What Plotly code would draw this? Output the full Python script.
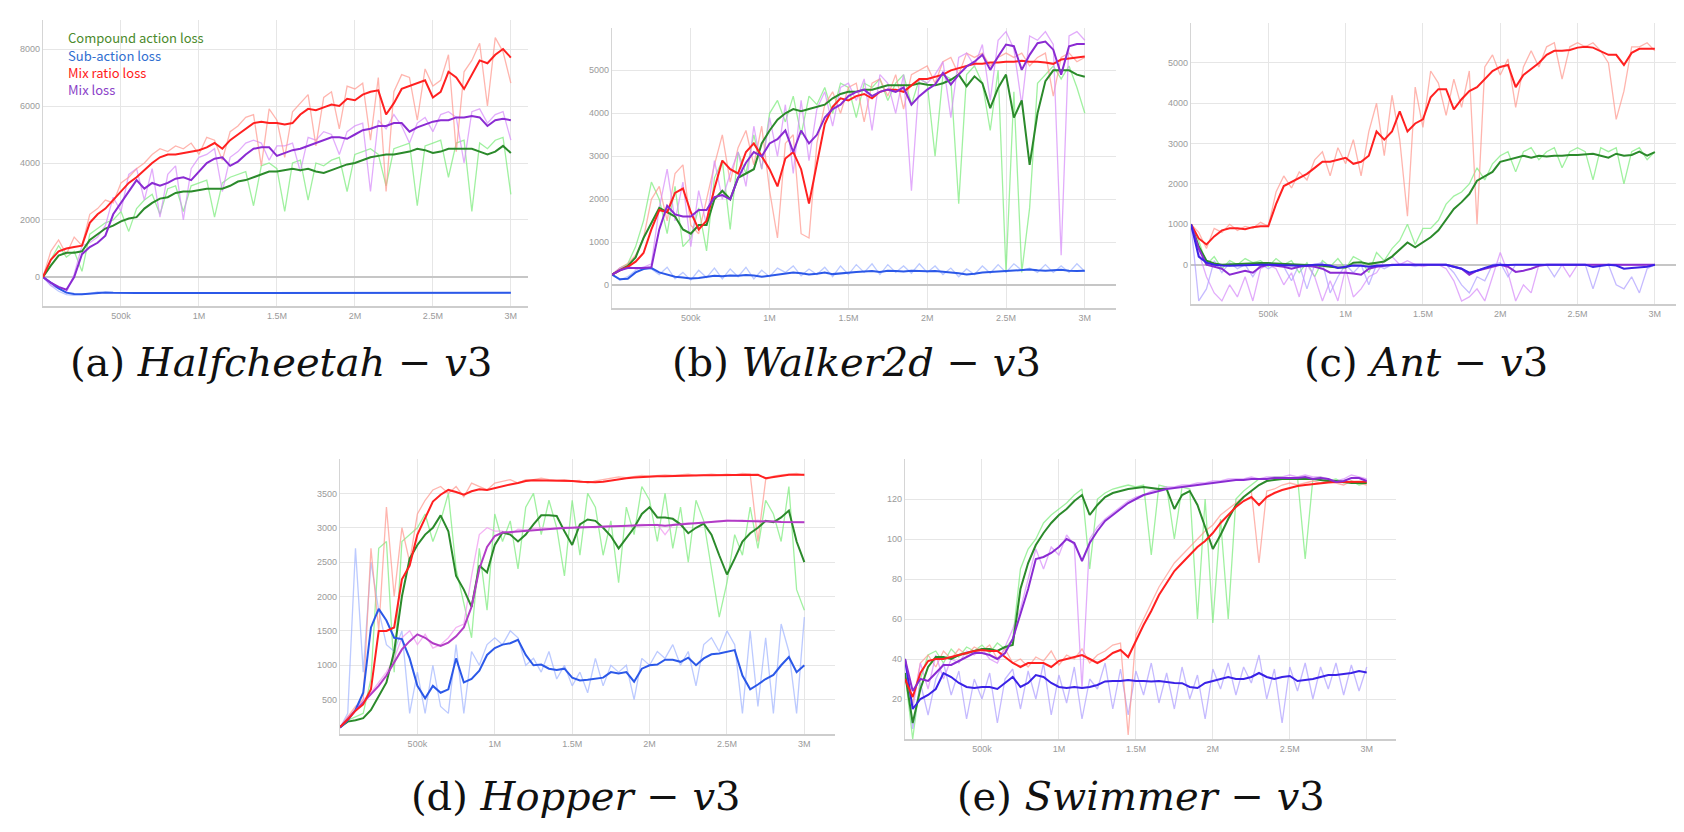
import plotly.graph_objects as go

W, H = 1684, 832

# ---------------- data ----------------
STEPS_K = [0,50,100,150,200,250,300,350,400,450,500,550,600,650,700,750,800,850,900,950,
           1000,1050,1100,1150,1200,1250,1300,1350,1400,1450,1500,1550,1600,1650,1700,1750,1800,1850,1900,1950,
           2000,2050,2100,2150,2200,2250,2300,2350,2400,2450,2500,2550,2600,2650,2700,2750,2800,2850,2900,2950,3000]

X_TICK_VALS = [500000, 1000000, 1500000, 2000000, 2500000, 3000000]
X_TICK_TEXT = ["500k", "1M", "1.5M", "2M", "2.5M", "3M"]

SERIES_NAMES = ["Compound action loss", "Sub-action loss", "Mix ratio loss", "Mix loss"]
PANEL_LABELS = ["(a)", "(b)", "(c)", "(d)", "(e)"]
PANEL_ENVS = ["Halfcheetah", "Walker2d", "Ant", "Hopper", "Swimmer"]

# (a) Halfcheetah-v3
A_GREEN = [0,400,750,850,850,900, 1300,1500,1700,1800,1950, 2050,2100,2400,2600,2750, 2800,2950,3000,3000,3050,
           3100,3100,3100,3200,3350, 3400,3500,3600,3700,3700, 3750,3800,3750,3800,3700, 3650,3750,3850,3950,4000,
           4100,4200,4250,4300,4300, 4350,4400,4500,4450,4350, 4400,4500,4500,4500,4500, 4400,4300,4400,4600,4350]
A_GREEN_RAW = [0,600,1100,700,900,200, 1500,1700,1900,2000,2300, 1600,2400,2700,2900,2200, 3100,3200,2300,3200,3300,
               3400,2100,3300,3500,3600, 3700,2500,3900,4000,3800, 2300,4000,4100,2700,4000, 3900,4100,4200,3000,4300,
               4400,4500,4300,3200,4500, 4600,4700,2500,4600,4700, 4800,3500,4700,4800,2300, 4700,4500,4800,4900,2900]
A_BLUE = [0,-200,-400,-550,-600,-610, -590,-560,-540,-550,-560, -560,-560,-560,-560,-560, -560,-560,-560,-560,-560,
          -560,-560,-560,-560,-560, -560,-560,-560,-560,-560, -560,-560,-560,-560,-560, -560,-560,-560,-555,-555,
          -555,-555,-555,-555,-555, -555,-555,-555,-555,-555, -555,-555,-555,-555,-555, -555,-555,-555,-555,-555]
A_BLUE_RAW = [0,-300,-500,-620,-640,-620, -580,-520,-560,-560,-570, -560,-550,-565,-560,-555, -560,-560,-565,-560,-560,
              -560,-555,-560,-560,-565, -560,-560,-560,-555,-560, -560,-560,-565,-560,-560, -560,-555,-560,-560,-555,
              -555,-560,-555,-555,-550, -555,-555,-560,-555,-555, -555,-550,-555,-555,-560, -555,-555,-550,-555,-555]
A_RED = [0,600,900,1000,1050,1100, 1900,2200,2400,2700,3000, 3300,3500,3750,4000,4200, 4300,4300,4350,4400,4450,
         4550,4700,4500,4800,5000, 5200,5400,5450,5400,5400, 5350,5400,5700,5900,5850, 5950,6050,6000,6250,6200,
         6400,6500,6550,5700,6100, 6600,6700,6800,6900,6300, 6500,7200,7000,6600,7100, 7600,7500,7800,8000,7700]
A_RED_RAW = [0,900,1300,800,1400,1100, 2200,2400,2700,2600,3300, 3500,3800,4000,4300,4500, 4400,4600,4500,4700,4300,
             4900,4800,4100,5100,5300, 5600,5700,3900,5900,5500, 4200,5800,6100,6400,4600, 6300,6500,5200,6700,6600,
             6800,4800,7000,3000,6500, 7100,7000,5500,7300,6700, 6900,7800,4400,7200,7600, 8200,6000,8400,7900,6800]
A_PURPLE = [0,-200,-350,-450,0,800, 1050,1200,1450,2200,2600, 3000,3400,3100,3300,3200, 3300,3450,3500,3400,3700,
            4000,4150,4200,3900,4050, 4300,4500,4550,4550,4250, 4350,4450,4500,4600,4700, 4800,4900,4900,4850,5000,
            5150,5200,5300,5300,5400, 5400,5100,5250,5350,5450, 5500,5500,5600,5600,5650, 5600,5300,5500,5550,5500]
A_PURPLE_RAW = [0,-300,-400,-550,100,1100, 1200,1400,1800,2800,2300, 3600,3800,2700,3800,2100, 3600,3900,2000,3800,4200,
                4300,4500,3000,4200,4400, 4700,4800,4700,4100,4600, 4600,4700,3700,4900,4800, 5100,5000,4300,5100,5300,
                5400,3000,5500,5200,5700, 5300,4700,5400,5600,5100, 5700,5800,5600,4000,5800, 5900,5400,5700,5800,4800]

# (b) Walker2d-v3
B_GREEN = [250,350,450,650,1100,1450, 1800,1700,1600,1300,1200, 1400,1400,2000,2200,2000, 2500,2600,2700,3300,3600,
           3850,4000,4100,4050,4100, 4150,4200,4350,4450,4500, 4500,4550,4550,4600,4650, 4650,4650,4650,4700,4665,
           4650,4700,4780,4900,4630, 4860,4700,4120,4590,4900, 3900,4300,2800,4000,4750, 5000,5000,5000,4900,4850]
B_GREEN_RAW = [250,400,500,900,1500,2400, 2000,1200,2300,900,1100, 1800,800,2500,2900,1300, 3100,2600,3500,2700,4000,
               4300,3800,4400,3500,4400, 4200,4600,4000,4700,4600, 3900,4700,4600,4800,4300, 4700,4900,4200,4800,4700,
               3000,4900,4800,1900,4900, 5100,4700,3600,5000,300, 4500,300,1800,4700,4900, 5100,4800,5100,4600,4000]
B_BLUE = [250,140,150,300,380,400, 300,250,200,180,160, 170,200,220,210,230, 220,240,230,200,220,
          250,280,300,280,250, 270,300,260,280,300, 310,320,330,310,340, 330,320,340,330,325,
          330,320,300,280,250, 270,300,310,320,330, 340,350,365,350,340, 350,360,340,330,340]
B_BLUE_RAW = [250,120,200,350,420,380, 250,420,150,300,120, 350,180,400,150,380, 200,420,150,350,200,
              400,300,450,220,380, 250,420,200,450,250, 480,300,500,250,480, 300,450,280,500,300,
              450,250,400,200,380, 250,450,280,480,300, 500,350,400,300,480, 300,450,300,500,320]
B_RED = [250,350,430,550,750,1300, 1750,1700,2150,2250,1700, 1300,1500,2250,2900,2700, 2600,3100,3300,3000,2700,
         2300,2950,3100,2700,1900, 2800,3750,4150,4350,4300, 4400,4450,4350,4500,4550, 4550,4500,4650,4800,4800,
         4850,4900,5000,5050,5100, 5150,5150,5180,5180,5200, 5200,5220,5200,5200,5180, 5150,5250,5280,5300,5320]
B_RED_RAW = [250,400,500,700,1100,2000, 2300,1500,2600,2800,1400, 1200,2000,2800,3500,2400, 3200,3600,2800,3700,2200,
             1100,3300,3500,1200,1100, 3300,4200,4500,4000,4600, 4700,3800,4700,4800,4400, 4900,4100,4900,5000,5100,
             4700,5200,5300,4900,5400, 5300,5400,5100,5300,5400, 5300,5400,5100,5300,5400, 4400,5300,5400,5200,5300]
B_PURPLE = [250,350,400,400,400,420, 1300,1850,1650,1600,1600, 1750,1750,2050,2100,2000, 2500,2850,3100,3000,3300,
            3400,3600,3100,3600,3300, 3500,3900,4100,4200,4400, 4500,4550,4400,4500,4550, 4500,4600,4200,4400,4550,
            4670,4940,4670,4900,5090, 5200,5360,5010,5320,5600, 5560,5010,5360,5630,5670, 5480,4900,5560,5610,5610]
B_PURPLE_RAW = [250,400,450,380,420,500, 1800,2700,1500,2400,900, 2200,1400,2900,2000,2600, 3100,2300,3700,2700,3900,
                3000,4200,2600,4300,2900, 4100,4500,3700,4600,4700, 4300,4800,3600,4900,4700, 4000,4900,2200,4800,4700,
                4900,5200,3900,5300,5400, 5100,5600,4300,5700,5900, 5500,4200,5800,5700,5900, 5600,700,5800,5900,5700]

# (c) Ant-v3
C_GREEN = [1000,450,100,30,0,10, 20,30,40,40,40, 30,20,10,0,0, -20,-30,-50,-70,-70,
           50,60,20,50,80, 200,380,550,430,560, 680,850,1100,1380,1550, 1750,2080,2200,2300,2550,
           2600,2650,2700,2650,2700, 2680,2700,2700,2720,2720, 2740,2750,2700,2650,2750, 2700,2720,2800,2700,2790]
C_GREEN_RAW = [1000,600,0,200,-100,100, 0,150,50,100,-50, 150,0,100,-200,50, -300,100,-50,150,-100,
               200,100,-200,300,100, 400,600,1000,500,900, 900,1100,1500,1700,1800, 2000,2400,2100,2500,2700,
               2800,2300,2800,2900,2600, 2800,2900,2400,2800,2900, 2800,2100,2900,2800,2900, 2000,2800,2900,2600,2800]
C_BLUE = [1000,200,50,0,-20,-30, -20,-10,0,0,0, -10,-20,-30,-30,-20, 0,0,-20,-80,-50,
          -20,-30,-50,-30,-20, 0,0,0,0,0, 0,0,0,-50,-100, -200,-150,-80,-20,0,
          -10,0,0,0,0, 0,0,0,0,0, 0,-60,-30,0,-20, -100,-80,-60,-50,0]
C_BLUE_RAW = [1000,-900,-600,100,-200,50, -100,0,-300,20,-100, 0,-50,-400,0,-600, 0,50,-700,-300,0,
              -200,0,-500,0,-100, 0,0,0,-50,0, 0,0,0,-200,-500, -700,-300,-400,0,50,
              -300,0,0,0,0, 0,-300,0,0,0, 0,-600,0,0,-500, -600,-300,-700,-100,0]
C_RED = [1000,650,500,700,850,900, 900,880,930,950,950, 1500,1950,2050,2150,2250, 2400,2550,2550,2600,2650,
         2500,2550,2700,3300,3100, 3300,3800,3300,3500,3600, 4150,4350,4350,3850,4100, 4300,4400,4600,4800,4900,
         4950,4400,4700,4850,5000, 5200,5300,5300,5320,5380, 5400,5380,5300,5200,5200, 4950,5250,5350,5350,5350]
C_RED_RAW = [1000,800,400,900,800,1000, 850,950,900,1050,950, 1800,2200,1900,2300,2100, 2600,2800,2200,2900,2500,
             3100,2200,3300,4000,2700, 4200,3100,1200,4400,3400, 4800,4500,3700,4600,3900, 4800,1000,4900,5200,4700,
             5100,3900,4900,5300,4900, 5400,5500,4600,5400,5500, 5400,5500,5300,5000,3600, 4300,5400,5400,5500,5300]
C_PURPLE = [1000,400,0,-50,-100,-250, -200,-150,-200,-50,0, -20,-50,-100,-50,-30, -50,-100,-200,-200,-200,
            -220,-250,-100,-50,-30, 0,0,0,0,0, 0,0,0,-50,-100, -250,-150,-100,-50,0,
            -50,-180,-150,-100,-30, 0,0,0,0,0, 0,0,0,0,0, 0,0,0,0,0]
C_PURPLE_RAW = [1000,300,-300,-700,-900,-500, -800,-300,-900,-100,0, -100,-500,-200,-800,0, -300,-900,-400,-900,-100,
                -800,-600,-300,-200,100, 200,0,100,0,-50, 0,0,-100,-400,-900, -800,-600,-900,-300,300,
                -200,-900,-500,-700,0, 0,0,0,-300,0, 0,0,0,0,0, 0,0,0,0,0]

# (d) Hopper-v3
D_GREEN = [100,180,200,230,350,550, 750,1200,2000,2550,2750, 2900,3000,3180,2950,2300, 2100,1850,2450,2350,2750,
           2930,2900,2800,2900,3050, 3180,3180,3170,2950,2750, 3050,3120,3100,3000,2880, 2700,2850,3000,3200,3300,
           3150,3150,3130,3050,2920, 3000,3060,2900,2600,2320, 2550,2800,2920,3000,3100, 3080,3150,3250,2800,2500]
D_GREEN_RAW = [100,200,250,300,800,2700, 2800,900,2800,2900,3000, 3200,2800,3100,3500,2400, 1900,1400,2700,1800,3200,
               2800,3100,2400,3300,3500, 2900,3400,3000,2300,3400, 2600,3500,3300,2600,3100, 2200,3300,2900,3600,3400,
               2800,3500,2700,3300,2500, 3400,3100,2400,1700,2200, 2900,2600,3300,2700,3400, 3200,2800,3600,2100,1800]
D_BLUE = [90,200,350,600,1550,1820, 1650,1400,1380,1100,700, 520,700,600,650,1100, 750,800,920,1150,1250,
          1300,1320,1370,1150,1000, 1010,950,930,950,820, 780,790,800,820,900, 880,900,760,950,1000,
          1010,1080,1080,1050,1110, 1000,1100,1160,1170,1200, 1220,850,650,720,800, 860,1000,1120,900,1000]
D_BLUE_RAW = [90,300,2700,900,2500,1800, 1300,1200,1500,300,900, 300,1000,400,300,1300, 300,1200,1000,1300,1400,
              1300,1500,1400,1000,1100, 900,1200,800,1000,700, 900,600,1100,700,1000, 900,1000,500,1100,1000,
              1200,1100,1300,1000,1200, 700,1300,1400,1200,1500, 1300,300,1500,400,1400, 300,1600,1200,300,1700]
D_RED = [100,210,340,430,650,1500, 1500,1550,2250,2450,2900, 3150,3380,3480,3550,3520, 3480,3530,3560,3550,3580,
         3600,3630,3650,3680,3690, 3690,3690,3690,3680,3680, 3670,3660,3660,3670,3690, 3710,3720,3730,3740,3740,
         3750,3750,3755,3760,3760, 3760,3765,3765,3765,3760, 3770,3770,3770,3770,3720, 3740,3760,3770,3770,3770]
D_RED_RAW = [100,250,400,500,2700,1500, 3300,2000,3000,2500,3200, 3400,3550,3600,3500,3600, 3450,3650,3600,3550,3650,
             3680,3700,3650,3700,3700, 3720,3700,3690,3700,3680, 3690,3650,3680,3700,3710, 3740,3730,3750,3760,3750,
             3760,3770,3760,3770,3780, 3760,3770,3780,3770,3780, 3770,3790,3780,2800,3700, 3750,3770,3780,3790,3760]
D_PURPLE = [100,220,330,450,580,700, 850,1030,1230,1350,1450, 1400,1320,1280,1330,1420, 1550,1850,2400,2720,2880,
            2930,2940,2950,2960,2970, 2980,2985,2990,2995,3000, 3005,3010,3010,3015,3020, 3020,3025,3030,3035,3040,
            3040,3030,3040,3050,3060, 3060,3070,3080,3090,3100, 3100,3100,3100,3100,3090, 3090,3085,3085,3080,3080]
D_PURPLE_RAW = [100,250,350,500,600,750, 900,1100,1400,1500,1300, 1450,1250,1300,1400,1550, 1600,2300,2900,3000,2950,
                2950,2900,2980,2970,2990, 3000,2990,3000,3010,3000, 3020,3010,3000,3020,3030, 3020,3030,3040,3050,3040,
                3050,2900,3050,3060,3070, 3060,3080,3090,3100,3110, 3100,3110,3100,3110,3090, 3100,3090,3080,3090,3080]

# (e) Swimmer-v3
E_GREEN = [33,8,25,36,41,41, 40,42,43,44,45, 45,44,46,47,75, 88,97,103,108,112,
           115,119,122,112,117, 121,123,124,125,125.5, 126,125.5,125,125,115, 122,124,117,106,95,
           102,110,117,121,124, 127,129,129.5,130,130, 130,130,130,129.5,129, 129,128.5,128,128,128]
E_GREEN_RAW = [33,0,30,42,44,38, 45,41,46,44,47, 43,48,45,50,85, 95,100,108,112,115,
               118,122,125,85,120, 123,125,126,127,126, 127,92,127,126,100, 126,125,60,120,58,
               110,60,120,124,127, 130,130,131,131,130, 131,90,130,131,129, 130,128,129,127,128]
E_BLUE = [40,15,20,22,25,33, 31,28,26,25.5,26, 26,25,28,31,26, 28,32,31,28,26,
          25.5,26,25.5,26,27, 28.8,29,29,29.5,29, 29,28.8,29,28.5,28, 27.9,26,25.5,28,29,
          30,31,30,30,31, 33,31,30,31,31.5, 29,29.5,30,31,32, 32,32.5,33,34,33.3]
E_BLUE_RAW = [40,5,28,12,30,38, 22,34,10,30,20, 33,8,30,35,15, 34,20,38,12,32,
              18,36,10,30,25, 38,15,35,12,34, 22,38,18,33,15, 36,20,32,10,35,
              25,38,22,36,28, 42,20,35,8,36, 24,38,20,36,25, 38,22,37,24,36]
E_RED = [30,21,33,39,40,40, 41,42,43,44,44.5, 44,44,41,38,36, 38,38,38,36,39,
         40,41,42,40,38, 40,43,44.5,41,49, 57,64,72,78,84, 88,92,96,99,103,
         108,112,116,119,121, 117,121,123,124.5,125.5, 126.5,127,127.5,128,128.3, 128.5,128.6,128.6,128.6,128.6]
E_RED_RAW = [30,18,38,42,36,44, 40,45,42,46,44, 47,40,45,38,40, 36,41,39,44,37,
             42,40,45,38,42, 44,47,48,2,52, 60,68,76,82,88, 92,96,100,104,107,
             112,115,118,121,124, 88,124,125,127,128, 127,128,129,128,129, 128,127,129,128,127]
E_PURPLE = [40,24,30,29,33,37, 37,39,41,43,43, 42,40,43,50,63, 75,90,91,93,96,
            100,98,89,98,104, 109,112,115,118,120, 122,123,124,125,125.5, 126,126.5,127,127.5,128,
            128.5,129,129.5,129.5,130, 130,130,130.5,130.5,130.5, 130.5,131,130,130.5,130, 128.5,129,130.5,130.5,129]
E_PURPLE_RAW = [40,15,38,25,42,30, 40,38,44,42,45, 40,38,46,55,65, 80,95,85,96,92,
                102,97,25,100,106, 110,113,116,119,121, 122,124,125,126,126, 127,127,128,128,129,
                129,130,130,130,131, 130,131,131,131,132, 131,132,131,131,130, 129,130,132,131,130]

# y ticks per panel
A_YTICKS = [0, 2000, 4000, 6000, 8000]
B_YTICKS = [0, 1000, 2000, 3000, 4000, 5000]
C_YTICKS = [0, 1000, 2000, 3000, 4000, 5000]
D_YTICKS = [500, 1000, 1500, 2000, 2500, 3000, 3500]
E_YTICKS = [20, 40, 60, 80, 100, 120]

# ---------------- style ----------------
GREEN, GREEN_L = "#2b8a2b", "rgba(120,235,120,0.7)"
RED, RED_L = "#ff2020", "rgba(255,150,140,0.7)"
PURPLE, PURPLE_L = "#8a2bd2", "rgba(215,140,250,0.72)"
PURPLE_D, PURPLE_DL = "#b23cc6", "rgba(240,150,240,0.72)"
BLUE, BLUE_L = "#2b58e8", "rgba(160,180,255,0.7)"
BLUE_V, BLUE_VL = "#3a22e6", "rgba(175,160,255,0.72)"

X = [k * 1000 for k in STEPS_K]

# pixel boxes: left, right, top, bottom ; x max ; y range
PANELS = [
    dict(box=(35, 520, 12, 298), xmax=3.11e6, yr=[-1018, 9018], ticks=A_YTICKS,
         series=[(A_GREEN_RAW, A_GREEN, GREEN_L, GREEN), (A_BLUE_RAW, A_BLUE, BLUE_L, BLUE),
                 (A_PURPLE_RAW, A_PURPLE, PURPLE_L, PURPLE), (A_RED_RAW, A_RED, RED_L, RED)]),
    dict(box=(604, 1108, 20, 300), xmax=3.198e6, yr=[-528, 5984], ticks=B_YTICKS,
         series=[(B_GREEN_RAW, B_GREEN, GREEN_L, GREEN), (B_BLUE_RAW, B_BLUE, BLUE_L, BLUE),
                 (B_RED_RAW, B_RED, RED_L, RED), (B_PURPLE_RAW, B_PURPLE, PURPLE_L, PURPLE)]),
    dict(box=(1183, 1677, 15, 296), xmax=3.195e6, yr=[-975, 5990], ticks=C_YTICKS,
         series=[(C_GREEN_RAW, C_GREEN, GREEN_L, GREEN), (C_RED_RAW, C_RED, RED_L, RED),
                 (C_PURPLE_RAW, C_PURPLE, PURPLE_L, PURPLE), (C_BLUE_RAW, C_BLUE, BLUE_VL, BLUE_V)]),
    dict(box=(332, 827, 451, 726), xmax=3.198e6, yr=[0, 4000], ticks=D_YTICKS,
         series=[(D_GREEN_RAW, D_GREEN, GREEN_L, GREEN), (D_BLUE_RAW, D_BLUE, BLUE_L, BLUE),
                 (D_PURPLE_RAW, D_PURPLE, PURPLE_DL, PURPLE_D), (D_RED_RAW, D_RED, RED_L, RED)]),
    dict(box=(897, 1388, 451, 731), xmax=3.19e6, yr=[0, 140], ticks=E_YTICKS,
         series=[(E_GREEN_RAW, E_GREEN, GREEN_L, GREEN), (E_BLUE_RAW, E_BLUE, BLUE_VL, BLUE_V),
                 (E_RED_RAW, E_RED, RED_L, RED), (E_PURPLE_RAW, E_PURPLE, PURPLE_L, PURPLE)]),
]

TITLE_POS = [(273, 354), (848, 354), (1418, 354), (568, 788), (1133, 788)]

fig = go.Figure()
layout = dict(
    width=W, height=H, margin=dict(l=0, r=0, t=0, b=0),
    paper_bgcolor="white", plot_bgcolor="white", showlegend=False,
    annotations=[],
)

for i, p in enumerate(PANELS):
    n = "" if i == 0 else str(i + 1)
    l, r, t, b = p["box"]
    xa = dict(domain=[l / W, r / W], range=[0, p["xmax"]], anchor="y" + n,
              tickvals=X_TICK_VALS, ticktext=X_TICK_TEXT, showgrid=True,
              gridcolor="#e6e6e6", gridwidth=1.2, zeroline=False,
              showline=True, linecolor="#cdcdcd", linewidth=1.5, ticks="",
              tickfont=dict(family="Liberation Sans", size=9, color="#9a9a9a"))
    ya = dict(domain=[1 - b / H, 1 - t / H], range=p["yr"], anchor="x" + n,
              tickvals=p["ticks"], showgrid=True, gridcolor="#e6e6e6", gridwidth=1.2,
              zeroline=True, zerolinecolor="#c6c6c6", zerolinewidth=1.5,
              showline=True, linecolor="#d5d5d5", linewidth=1.2, ticks="",
              tickfont=dict(family="Liberation Sans", size=9, color="#9a9a9a"))
    layout["xaxis" + n] = xa
    layout["yaxis" + n] = ya
    for raw, sm, cl, cd in p["series"]:
        fig.add_trace(go.Scatter(x=X, y=raw, mode="lines", xaxis="x" + n, yaxis="y" + n,
                                 line=dict(color=cl, width=1.3), hoverinfo="skip"))
    for raw, sm, cl, cd in p["series"]:
        fig.add_trace(go.Scatter(x=X, y=sm, mode="lines", xaxis="x" + n, yaxis="y" + n,
                                 line=dict(color=cd, width=2.0)))
    cx, cy = TITLE_POS[i]
    layout["annotations"].append(dict(
        xref="paper", yref="paper", x=cx / W, y=1 - cy / H, xanchor="center", yanchor="middle",
        showarrow=False,
        text=PANEL_LABELS[i] + "\u00a0<i>" + PANEL_ENVS[i] + "</i>\u00a0\u2212\u00a0<i>v</i>3",
        font=dict(family="DejaVu Serif", size=40, color="#111111")))

LEGEND_COLORS = ["#4b8a2c", "#2f6ed0", "#ff1a1a", "#8b3fc8"]
for j, name in enumerate(SERIES_NAMES):
    layout["annotations"].append(dict(
        xref="paper", yref="paper", x=58 / W, y=1 - (30 + 17.3 * j) / H,
        xanchor="left", yanchor="middle", showarrow=False, text=name,
        font=dict(family="Noto Sans CJK SC", size=13, color=LEGEND_COLORS[j])))

fig.update_layout(**layout)
fig.write_html("out.html")
